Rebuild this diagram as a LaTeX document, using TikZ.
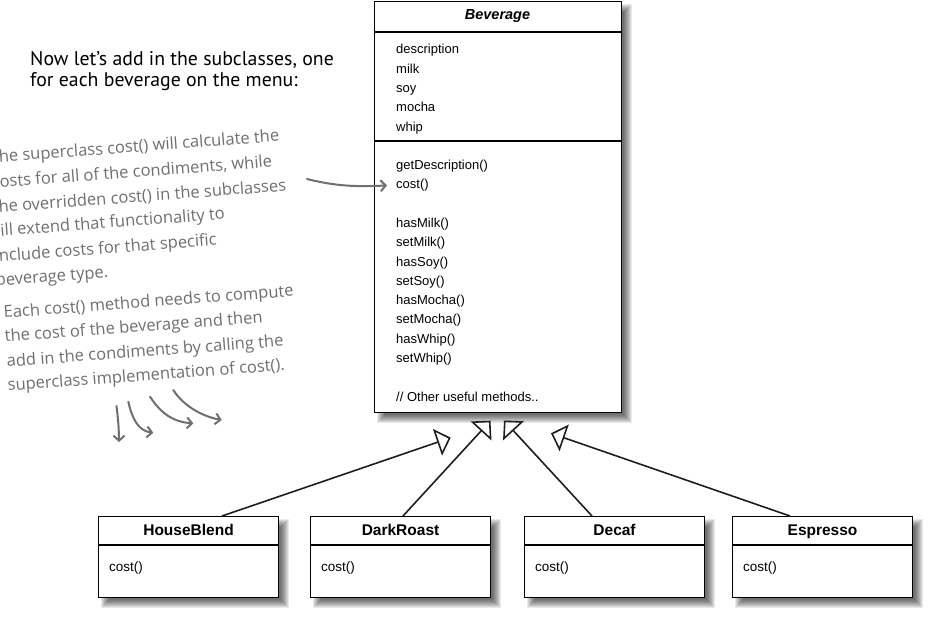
\documentclass[tikz,border=0pt]{standalone}
\usepackage{fontspec}
\setmainfont{Liberation Sans}
\newfontfamily\handfont{PT Sans}
\newfontfamily\notefont{Open Sans}
\usetikzlibrary{arrows.meta,calc}
\definecolor{notegray}{HTML}{6F6F6F}
\definecolor{linek}{HTML}{1E1E1E}
\newcommand{\softshadow}[1]{%
  \foreach \k in {0,...,8}{%
    \fill[black,fill opacity=0.085]
      ([xshift={(3+\k)*1pt},yshift={-(3+\k)*1pt}]#1.north west) rectangle
      ([xshift={(10-\k)*1pt},yshift={-(10-\k)*1pt}]#1.south east);
  }}
\tikzset{
  umlbox/.style={draw=black,line width=1.1pt,fill=white,inner sep=0pt,anchor=north west},
  sepline/.style={draw=black,line width=1.1pt},
  umltext/.style={inner sep=0pt,anchor=base west,font=\fontsize{13}{15}\selectfont},
  subtitle/.style={inner sep=0pt,anchor=base,font=\fontsize{15.5}{18}\selectfont\bfseries},
  inherit/.style={draw=linek,line width=1.6pt,-{Triangle[open,length=14pt,width=28pt]}},
  note/.style={inner sep=0pt,anchor=base west,rotate=4.3,text=notegray,font=\notefont\fontsize{16.5}{20}\selectfont},
  header/.style={inner sep=0pt,anchor=base west,font=\handfont\fontsize{19.8}{23}\selectfont},
  scribble/.style={draw=notegray,line width=2pt,line cap=round,line join=round},
  barb/.style={-{Straight Barb[length=5pt,width=11pt]}}
}
\begin{document}
\begin{tikzpicture}[x=1pt,y=-1pt]
\useasboundingbox (0,0) rectangle (945,623);
\clip (0,0) rectangle (945,623);

% ---------- Beverage ----------
\node[umlbox,minimum width=247pt,minimum height=411pt] (bev) at (374,1) {};
\softshadow{bev}
\node[umlbox,minimum width=247pt,minimum height=411pt] (bevf) at (374,1) {};
\draw[sepline] ($(bevf.north west)+(0,31)$) -- ($(bevf.north east)+(0,31)$);
\draw[sepline] ($(bevf.north west)+(0,140)$) -- ($(bevf.north east)+(0,140)$);
\node[inner sep=0pt,anchor=base,font=\fontsize{14.5}{17}\selectfont\bfseries\itshape] (bevt) at (497.5,19.5) {Beverage};

\foreach \t [count=\i] in {description,milk,soy,mocha,whip}
  \node[umltext] (a\i) at (396,{54+19.3*(\i-1)}) {\t};

\foreach \t/\yy [count=\i] in {{getDescription()}/169.5,{cost()}/188.8,{hasMilk()}/227.4,{setMilk()}/246.7,{hasSoy()}/266,{setSoy()}/285.3,{hasMocha()}/304.6,{setMocha()}/323.9,{hasWhip()}/343.2,{setWhip()}/362.5,{// Other useful methods..}/401.1}
  \node[umltext] (m\i) at (396,\yy) {\t};

% ---------- Subclasses ----------
\foreach \nm/\xx/\ttl in {hb/98/HouseBlend,dr/310/DarkRoast,dc/524/Decaf,es/732/Espresso}{
  \node[umlbox,minimum width=180pt,minimum height=81pt] (\nm s) at (\xx,516) {};
  \softshadow{\nm s}
  \node[umlbox,minimum width=180pt,minimum height=81pt] (\nm) at (\xx,516) {};
  \draw[sepline] ($(\nm.north west)+(0,29)$) -- ($(\nm.north east)+(0,29)$);
  \node[subtitle] (\nm t) at ($(\nm.north)+(0,19)$) {\ttl};
  \node[umltext,font=\fontsize{13.5}{15}\selectfont] (\nm c) at ($(\nm.north west)+(11,55)$) {cost()};
}

% ---------- Generalisation arrows ----------
\coordinate (t1) at (450.7,437.7);
\coordinate (t2) at (490.5,420.7);
\coordinate (t3) at (504,420.5);
\coordinate (t4) at (551,433.3);
\draw[inherit] ($(hb.north west)+(124,0)$) -- (t1);
\draw[inherit] ($(dr.north west)+(93,0)$) -- (t2);
\draw[inherit] ($(dc.north west)+(68,0)$) -- (t3);
\draw[inherit] ($(es.north west)+(58,0)$) -- (t4);

% ---------- Header ----------
\node[header] (h1) at (30,66) {Now let’s add in the subclasses, one};
\node[header] (h2) at (30,87) {for each beverage on the menu:};

% ---------- Notes ----------
\node[note] (p1) at (-10,163) {The superclass cost() will calculate the};
\node[note] (p2) at (-8,188) {costs for all of the condiments, while};
\node[note] (p3) at (-7,213) {the overridden cost() in the subclasses};
\node[note] (p4) at (-12,237) {will extend that functionality to};
\node[note] (p5) at (-5,262) {include costs for that specific};
\node[note] (p6) at (-4,286) {beverage type.};

\node[note] (q1) at (4,318) {Each cost() method needs to compute};
\node[note] (q2) at (5,342) {the cost of the beverage and then};
\node[note] (q3) at (7,367) {add in the condiments by calling the};
\node[note] (q4) at (8,391) {superclass implementation of cost().};

% arrow to cost()
\coordinate (n0) at (307,179);
\draw[scribble,barb] (n0) .. controls (335,186) and (355,187) .. ([xshift=-9pt]m2.west);

% scribbled arrows
\coordinate (s1) at (116.5,406);
\coordinate (e1) at (119,442);
\draw[scribble,barb] (s1) .. controls (118,418) and (119,430) .. (e1);
\coordinate (s2) at (128.3,401.7);
\coordinate (e2) at (153.3,432.7);
\draw[scribble,barb] (s2) .. controls (132,418) and (138,431) .. (e2);
\coordinate (s3) at (150,396.7);
\coordinate (e3) at (193.3,423.3);
\draw[scribble,barb] (s3) .. controls (160,412) and (172,422) .. (e3);
\coordinate (s4) at (173.3,390);
\coordinate (e4) at (221.7,420);
\draw[scribble,barb] (s4) .. controls (182,404) and (200,416) .. (e4);
\end{tikzpicture}
\end{document}
